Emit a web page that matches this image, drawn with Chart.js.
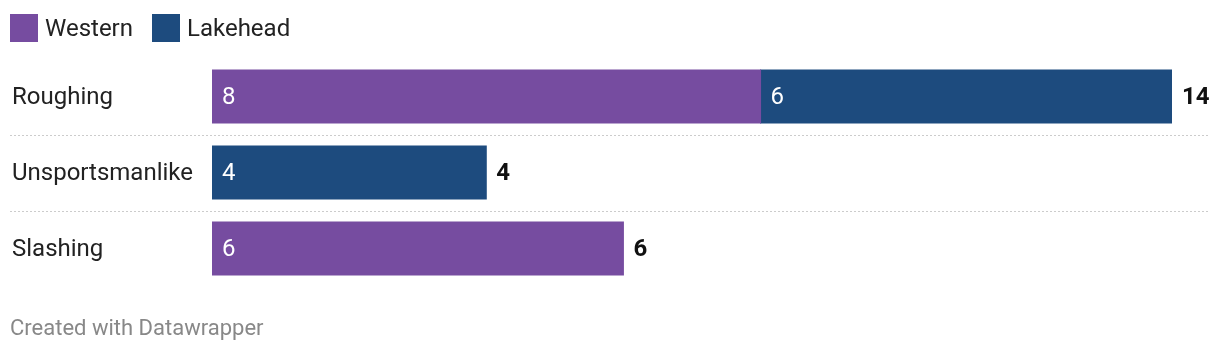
<!DOCTYPE html>
<html>
<head>
<meta charset="utf-8">
<script src="https://cdn.jsdelivr.net/npm/chart.js@4"></script>
<style>
  body { margin: 0; background: #fff; font-family: Roboto, sans-serif; }
  #wrap { position: relative; width: 1220px; height: 352px; overflow: hidden; }
  #legend { position: absolute; left: 10px; top: 14px; display: flex; font-size: 24px; color: #222; line-height: 28px; }
  .item { display: flex; align-items: center; margin-right: 19px; }
  .sw { width: 28px; height: 28px; margin-right: 7px; }
  #footer { position: absolute; left: 10px; top: 315px; font-size: 22px; color: #888; }
  #chartBox { position: absolute; left: 0; top: 0; width: 1220px; height: 352px; }
</style>
</head>
<body>
<div id="wrap">
  <div id="chartBox"><canvas id="penaltyChart"></canvas></div>
  <div id="legend"></div>
  <div id="footer">Created with Datawrapper</div>
</div>
<script>
const categories = ['Roughing', 'Unsportsmanlike', 'Slashing'];
const western = [8, null, 6];
const lakehead = [6, 4, null];
const seriesNames = ['Western', 'Lakehead'];
const seriesColors = ['#764ca0', '#1d4b7e'];

// legend
const legend = document.getElementById('legend');
seriesNames.forEach((name, i) => {
    const el = document.createElement('div');
    el.className = 'item';
    el.innerHTML = `<span class="sw" style="background:${seriesColors[i]}"></span>${name}`;
    legend.appendChild(el);
});

// labels, separators and totals
const labelPlugin = {
    id: 'labelPlugin',
    afterDatasetsDraw(chart) {
        const ctx = chart.ctx;
        const y = chart.scales.y;
        const x = chart.scales.x;
        ctx.save();
        ctx.textBaseline = 'middle';

        // dotted separators between rows
        ctx.strokeStyle = '#cccccc';
        ctx.lineWidth = 1;
        ctx.setLineDash([2, 2]);
        for (let i = 0; i < categories.length - 1; i++) {
            const sy = Math.round((y.getPixelForValue(i) + y.getPixelForValue(i + 1)) / 2) + 0.5;
            ctx.beginPath();
            ctx.moveTo(10, sy);
            ctx.lineTo(1208, sy);
            ctx.stroke();
        }
        ctx.setLineDash([]);

        categories.forEach((cat, i) => {
            const cy = y.getPixelForValue(i) + 1;
            ctx.font = '24px Roboto';
            ctx.fillStyle = '#222';
            ctx.textAlign = 'left';
            ctx.fillText(cat, 12, cy);

            // values inside bars
            chart.data.datasets.forEach((ds, d) => {
                const v = ds.data[i];
                if (v == null) return;
                const bar = chart.getDatasetMeta(d).data[i];
                ctx.fillStyle = '#fff';
                ctx.font = '24px Roboto';
                ctx.fillText(String(v), bar.base + 10, cy);
            });

            const total = (western[i] || 0) + (lakehead[i] || 0);
            ctx.fillStyle = '#111';
            ctx.font = 'bold 24px Roboto';
            ctx.fillText(String(total), x.getPixelForValue(total) + 10, cy);
        });
        ctx.restore();
    }
};

const ctx = document.getElementById('penaltyChart').getContext('2d');
const chart = new Chart(ctx, {
    type: 'bar',
    data: {
        labels: categories,
        datasets: [
            { label: seriesNames[0], data: western, backgroundColor: seriesColors[0], inflateAmount: 0.5 },
            { label: seriesNames[1], data: lakehead, backgroundColor: seriesColors[1], inflateAmount: 0.5 }
        ]
    },
    options: {
        indexAxis: 'y',
        responsive: true,
        maintainAspectRatio: false,
        animation: false,
        categoryPercentage: 1,
        barPercentage: 53 / 76,
        layout: { padding: { left: 212, right: 48, top: 58.5, bottom: 65.5 } },
        scales: {
            x: { stacked: true, display: false, min: 0, max: 14 },
            y: { stacked: true, display: false }
        },
        plugins: {
            legend: { display: false },
            tooltip: { enabled: false }
        }
    },
    plugins: [labelPlugin]
});
</script>
</body>
</html>
